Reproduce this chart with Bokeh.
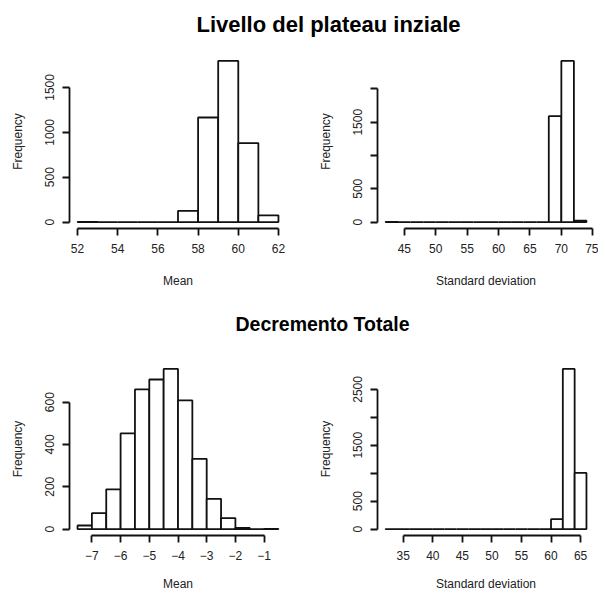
from bokeh.plotting import figure
from bokeh.models import Range1d, FixedTicker, ColumnDataSource, Label
from bokeh.layouts import column, row
from bokeh.embed import file_html
from bokeh.resources import INLINE

# --- Livello del plateau iniziale ---------------------------------------
plateau_mean_edges = [52, 53, 54, 55, 56, 57, 58, 59, 60, 61, 62]
plateau_mean_counts = [1, 0, 0, 0, 0, 125, 1165, 1795, 880, 75]
plateau_mean_xticks = [52, 54, 56, 58, 60, 62]
plateau_mean_yticks = [0, 500, 1000, 1500]

plateau_sd_edges = [42, 44, 46, 48, 50, 52, 54, 56, 58, 60, 62, 64, 66, 68, 70, 72, 74]
plateau_sd_counts = [1, 0, 0, 0, 0, 0, 0, 0, 0, 0, 0, 0, 0, 1590, 2420, 20]
plateau_sd_xticks = [45, 50, 55, 60, 65, 70, 75]
plateau_sd_yticks = [0, 500, 1000, 1500, 2000]
plateau_sd_unlabelled = [1000, 2000]

# --- Decremento totale ----------------------------------------------------
decr_mean_edges = [-7.5, -7, -6.5, -6, -5.5, -5, -4.5, -4, -3.5, -3, -2.5, -2, -1.5, -1, -0.5]
decr_mean_counts = [17, 75, 188, 452, 660, 707, 757, 608, 332, 143, 52, 6, 0, 1]
decr_mean_xticks = [-7, -6, -5, -4, -3, -2, -1]
decr_mean_yticks = [0, 200, 400, 600]

decr_sd_edges = [32, 34, 36, 38, 40, 42, 44, 46, 48, 50, 52, 54, 56, 58, 60, 62, 64, 66]
decr_sd_counts = [1, 0, 0, 0, 0, 0, 0, 0, 0, 0, 0, 0, 0, 0, 177, 2866, 1005]
decr_sd_xticks = [35, 40, 45, 50, 55, 60, 65]
decr_sd_yticks = [0, 500, 1000, 1500, 2000, 2500]
decr_sd_unlabelled = [1000, 2000]

FONT = "Liberation Sans"
INK = "#111111"
TEXT = "#222222"


def label_text(v):
    s = str(int(v)) if float(v).is_integer() else str(v)
    return s.replace("-", "\u2212")


def histogram(edges, counts, xticks, yticks, xlabel, height, border_left,
              border_right, border_top, border_bottom, title_gap, unlabelled=()):
    span = edges[-1] - edges[0]
    top = max(counts)
    p = figure(width=299, height=height, output_backend="svg", toolbar_location=None,
               x_range=Range1d(edges[0] - 0.04 * span, edges[-1] + 0.04 * span),
               y_range=Range1d(-0.04 * top, 1.04 * top),
               min_border_left=border_left, min_border_right=border_right,
               min_border_top=border_top, min_border_bottom=border_bottom)
    p.title.visible = False
    p.grid.visible = False
    p.outline_line_color = None
    p.background_fill_color = "white"
    p.border_fill_color = "white"

    src = ColumnDataSource(dict(left=edges[:-1], right=edges[1:], top=counts))
    p.quad(left="left", right="right", bottom=0, top="top", source=src,
           fill_color="white", line_color=INK, line_width=1.8)

    for ax, ticks in ((p.xaxis, xticks), (p.yaxis, yticks)):
        ax.ticker = FixedTicker(ticks=ticks, minor_ticks=[])
        ax.bounds = (ticks[0], ticks[-1])
        ax.axis_line_color = INK
        ax.axis_line_width = 1.8
        ax.major_tick_line_color = INK
        ax.major_tick_line_width = 1.8
        ax.major_tick_out = 7
        ax.major_tick_in = 0
        ax.minor_tick_out = 0
        ax.minor_tick_in = 0
        ax.major_label_text_font = FONT
        ax.major_label_text_font_size = "12px"
        ax.major_label_text_color = TEXT
        ax.major_label_standoff = 8
        ax.axis_label_text_font = FONT
        ax.axis_label_text_font_size = "12px"
        ax.axis_label_text_font_style = "normal"
        ax.axis_label_text_color = TEXT
        ax.major_label_overrides = {t: ("" if t in unlabelled else label_text(t)) for t in ticks}

    p.xaxis.axis_label_standoff = title_gap
    p.yaxis.axis_label_standoff = 18
    p.yaxis.major_label_orientation = "vertical"
    p.xaxis.axis_label = xlabel
    p.yaxis.axis_label = "Frequency"
    return p


def heading(text, height, x, baseline, size):
    p = figure(width=598, height=height, output_backend="svg", toolbar_location=None,
               x_range=Range1d(0, 1), y_range=Range1d(0, 1),
               min_border=0, min_border_left=0, min_border_right=0,
               min_border_top=0, min_border_bottom=0)
    p.title.visible = False
    p.axis.visible = False
    p.grid.visible = False
    p.outline_line_color = None
    p.border_fill_color = "white"
    p.background_fill_color = "white"
    p.add_layout(Label(x=x, y=height - baseline, x_units="screen", y_units="screen",
                       text=text, text_align="center", text_baseline="alphabetic",
                       text_font=FONT, text_font_style="bold", text_font_size=size,
                       text_color="#000000"))
    return p


title_top = heading("Livello del plateau inziale", 44, 328, 24, "22px")
p1 = histogram(plateau_mean_edges, plateau_mean_counts, plateau_mean_xticks,
               plateau_mean_yticks, "Mean", 256, 69, 13, 10, 72, 18)
p2 = histogram(plateau_sd_edges, plateau_sd_counts, plateau_sd_xticks,
               plateau_sd_yticks, "Standard deviation", 256, 78, 4, 10, 72, 18,
               plateau_sd_unlabelled)

title_bottom = heading("Decremento Totale", 40, 322, 23, "19.5px")
p3 = histogram(decr_mean_edges, decr_mean_counts, decr_mean_xticks,
               decr_mean_yticks, "Mean", 253, 69, 13, 22, 57, 14)
p4 = histogram(decr_sd_edges, decr_sd_counts, decr_sd_xticks,
               decr_sd_yticks, "Standard deviation", 253, 78, 4, 22, 57, 14,
               decr_sd_unlabelled)

page = column(title_top, row(p1, p2), title_bottom, row(p3, p4))

with open("out.html", "w") as f:
    f.write(file_html(page, INLINE))
